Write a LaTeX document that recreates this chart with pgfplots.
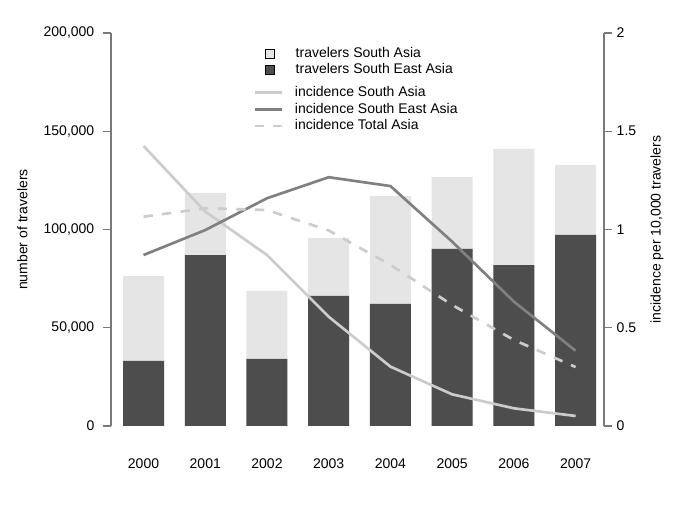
\documentclass[border=0pt]{standalone}
\usepackage{fontspec}
\setmainfont{Liberation Sans}
\usepackage{pgfplots}
\pgfplotsset{compat=1.18}
\definecolor{lightbar}{HTML}{E5E5E5}
\definecolor{darkbar}{HTML}{4D4D4D}
\definecolor{saline}{HTML}{CCCCCC}
\definecolor{seline}{HTML}{808080}
\definecolor{totline}{HTML}{CCCCCC}
\definecolor{axgray}{HTML}{7A7A7A}
\pgfplotsset{
  mybarlegend/.style={legend image code/.code={\path[draw=none, fill=none] (0pt,0pt) -- (20.25pt,0pt);
    \draw[##1, draw=black, line width=0.4pt] (6.4pt,-3.4pt) rectangle (13.1pt,3.4pt);}},
  mylinelegend/.style={legend image code/.code={\draw[##1] (0pt,0pt) -- (20.25pt,0pt);}},
  common/.style={
    at={(83.25pt,65.25pt)}, anchor=south west,
    scale only axis, width=369.75pt, height=294.75pt,
    xmin=-0.527, xmax=7.46,
    /pgf/number format/assume math mode=true,
    tick label style={font=\fontsize{10.5}{12.6}\selectfont, black},
    label style={font=\fontsize{10.5}{12.6}\selectfont},
    axis line style={-, axgray, line width=0.8pt},
    major tick length=6pt, tick align=outside,
    tick style={axgray, line width=0.8pt},
    legend cell align=left,
    legend style={draw=none, fill=none, inner sep=0pt, column sep=8pt, row sep=1pt,
      font=\fontsize{10.5}{12.6}\selectfont,
      nodes={inner sep=1pt, text height=7.5pt, text depth=2pt}},
  }
}
\begin{document}
\begin{tikzpicture}
\path[use as bounding box] (0,0) rectangle (513.75pt,384.75pt);
\begin{axis}[common,
  ymin=0, ymax=200000,
  axis y line*=left, axis x line*=bottom,
  x axis line style={draw=none},
  xtick={0,1,2,3,4,5,6,7},
  xticklabels={2000,2001,2002,2003,2004,2005,2006,2007},
  x tick style={draw=none},
  xticklabel style={yshift=-15pt},
  ytick={0,50000,100000,150000,200000},
  scaled y ticks=false,
  yticklabel style={xshift=-3pt, /pgf/number format/.cd, fixed, 1000 sep={,}},
  ylabel={number of travelers},
  ylabel style={at={(axis description cs:-0.18,0.5)}, anchor=center},
  legend style={at={(axis description cs:0.295,0.968)}, anchor=north west},
  ybar, bar width=30.75pt, bar shift=0pt,
]
\addplot[fill=lightbar, draw=none, mybarlegend]
  coordinates {(0,76300) (1,118600) (2,68700) (3,95700) (4,117000) (5,126700) (6,141000) (7,132800)};
\addlegendentry{travelers South Asia}
\addplot[fill=darkbar, draw=none, mybarlegend]
  coordinates {(0,33100) (1,87000) (2,34100) (3,66200) (4,62100) (5,90100) (6,81900) (7,97200)};
\addlegendentry{travelers South East Asia}
\end{axis}
\begin{axis}[common,
  ymin=0, ymax=2,
  axis y line*=right, axis x line=none,
  ytick={0,0.5,1,1.5,2},
  yticklabels={0,0.5,1,1.5,2},
  ylabel={incidence per 10,000 travelers},
  ylabel style={at={(axis description cs:1.1075,0.5)}, anchor=center},
  legend style={at={(axis description cs:0.288,0.868)}, anchor=north west},
]
\addplot[saline, line width=2pt, no marks, mylinelegend]
  coordinates {(0,1.425) (1,1.091) (2,0.870) (3,0.556) (4,0.302) (5,0.161) (6,0.090) (7,0.051)};
\addlegendentry{incidence South Asia}
\addplot[seline, line width=2pt, no marks, mylinelegend]
  coordinates {(0,0.870) (1,0.997) (2,1.159) (3,1.266) (4,1.221) (5,0.938) (6,0.633) (7,0.383)};
\addlegendentry{incidence South East Asia}
\addplot[totline, line width=2pt, no marks, dash pattern=on 7pt off 7pt, mylinelegend]
  coordinates {(0,1.065) (1,1.108) (2,1.099) (3,0.995) (4,0.820) (5,0.616) (6,0.438) (7,0.300)};
\addlegendentry{incidence Total Asia}
\end{axis}
\end{tikzpicture}
\end{document}
